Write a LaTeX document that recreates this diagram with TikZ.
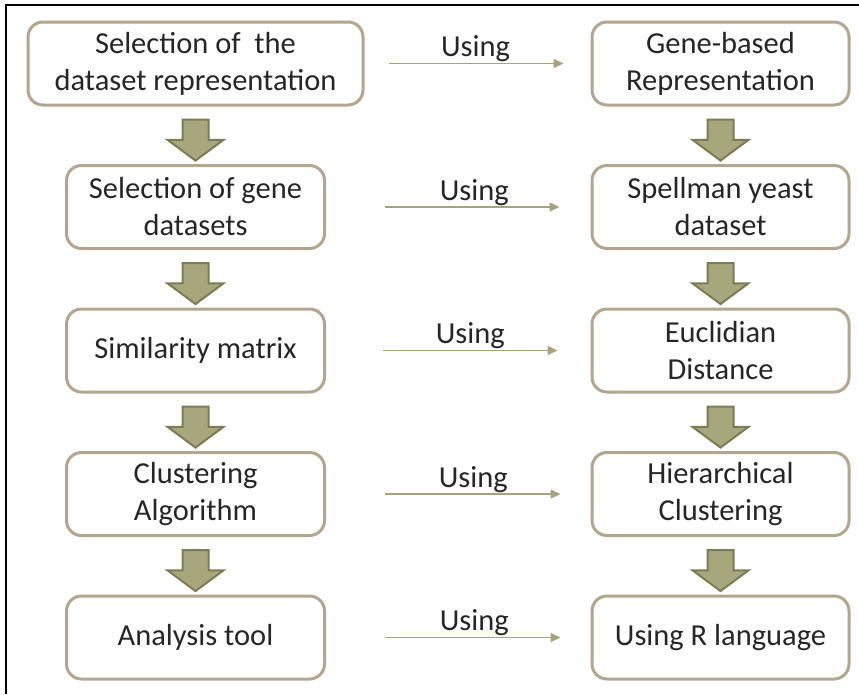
\documentclass[tikz,border=0pt]{standalone}
\usepackage{fontspec}
\setmainfont{Carlito}
\usepackage{xcolor}
\usepackage{tikz}
\usetikzlibrary{shapes.geometric, shapes.arrows, arrows.meta, positioning, calc}
\definecolor{boxline}{HTML}{B3A58E}
\definecolor{linkline}{HTML}{A6A47C}
\definecolor{bigfill}{HTML}{A8A77C}
\definecolor{bigline}{HTML}{7C7B56}
\definecolor{txt}{HTML}{262626}
\tikzstyle{stage} = [rectangle, draw=boxline, line width=3pt, rounded corners=15pt,
                     text centered, align=center, text=txt,
                     minimum width=258pt, minimum height=83pt,
                     font=\fontsize{30.5}{37}\selectfont]
\tikzstyle{method} = [stage, minimum width=257pt]
\tikzstyle{link} = [draw=linkline, line width=1.5pt,
                    -{Triangle[length=10pt,width=9pt]}]
\tikzstyle{using} = [above, inner sep=1pt, text=txt,
                     font=\fontsize{30.5}{37}\selectfont]
\tikzstyle{downarrow} = [single arrow, draw=bigline, fill=bigfill, line width=2pt,
			rotate=-90, inner xsep=0pt, inner ysep=12pt,
			minimum height=41pt, minimum width=54pt,
			single arrow head extend=15pt, single arrow tip angle=107]

\begin{document}
\begin{tikzpicture}[node distance = 143.5pt]
\useasboundingbox (0,0) rectangle (859pt,-694pt);
\draw [line width=2pt] (6pt,-694pt) -- (6pt,-5pt) -- (859pt,-5pt);
\node [stage, minimum width=335pt] at (195.5pt,-63.5pt) (sel_repr)
	{Selection of~ the\\dataset representation};
\node [stage, below of=sel_repr] (sel_data) {Selection of gene\\datasets};
\node [stage, below of=sel_data] (sim_matrix) {Similarity matrix};
\node [stage, below of=sim_matrix] (clust_algo) {Clustering\\Algorithm};
\node [stage, below of=clust_algo] (analysis) {Analysis tool};
\node [method, right of=sel_repr, xshift = 381.5pt] (gene_based)
	{Gene-based\\Representation};
\node [method, below of=gene_based] (spellman) {Spellman yeast\\dataset};
\node [method, below of=spellman] (euclid) {Euclidian\\Distance};
\node [method, below of=euclid] (hier_clust) {Hierarchical\\Clustering};
\node [method, below of=hier_clust] (r_lang) {Using R language};
\node [downarrow] at ($(sel_repr.south)!0.5!(sel_data.north)$) (down_l1) {};
\node [downarrow] at ($(sel_data.south)!0.5!(sim_matrix.north)$) (down_l2) {};
\node [downarrow] at ($(sim_matrix.south)!0.5!(clust_algo.north)$) (down_l3) {};
\node [downarrow] at ($(clust_algo.south)!0.5!(analysis.north)$) (down_l4) {};
\node [downarrow] at ($(gene_based.south)!0.5!(spellman.north)$) (down_r1) {};
\node [downarrow] at ($(spellman.south)!0.5!(euclid.north)$) (down_r2) {};
\node [downarrow] at ($(euclid.south)!0.5!(hier_clust.north)$) (down_r3) {};
\node [downarrow] at ($(hier_clust.south)!0.5!(r_lang.north)$) (down_r4) {};
\draw [link, shorten <=24pt, shorten >=27pt] (sel_repr) --
	node[using, xshift=-2pt] {Using} (gene_based);
\draw [link, shorten <=59pt, shorten >=31pt] (sel_data) --
	node[using, xshift=16pt] {Using} (spellman);
\draw [link, shorten <=57pt, shorten >=33pt] (sim_matrix) --
	node[using, xshift=12pt] {Using} (euclid);
\draw [link, shorten <=59pt, shorten >=30pt] (clust_algo) --
	node[using, xshift=15pt] {Using} (hier_clust);
\draw [link, shorten <=59pt, shorten >=30pt] (analysis) --
	node[using, xshift=16pt] {Using} (r_lang);
\end{tikzpicture}
\end{document}
